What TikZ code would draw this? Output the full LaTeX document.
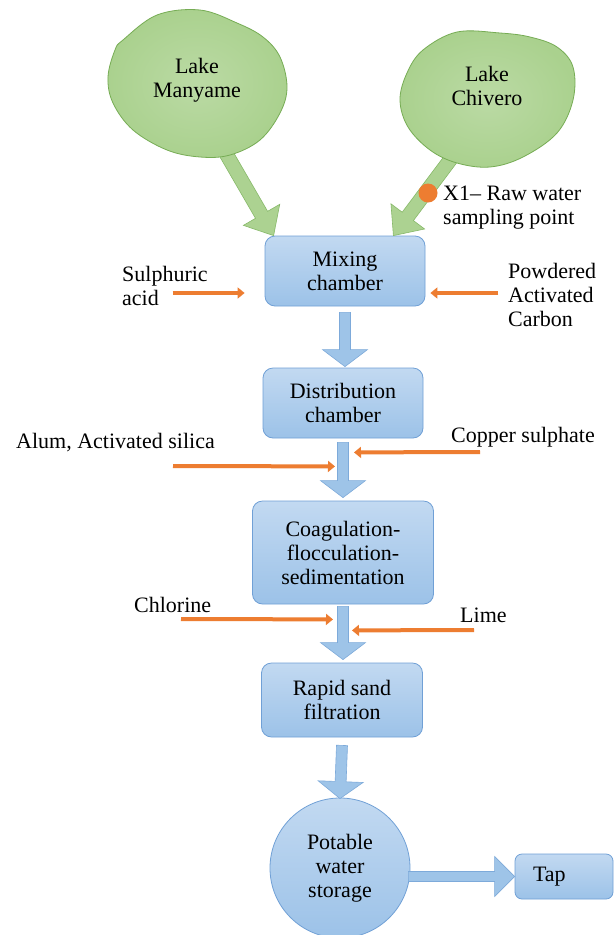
\documentclass[tikz,border=0pt]{standalone}
\usepackage{fontspec}
\setmainfont{Liberation Serif}
\usetikzlibrary{calc,arrows.meta}
\definecolor{boxtop}{RGB}{194,217,241}
\definecolor{boxbot}{RGB}{156,194,232}
\definecolor{boxedge}{RGB}{112,160,214}
\definecolor{arrfill}{RGB}{158,196,232}
\definecolor{arredge}{RGB}{125,170,218}
\definecolor{lakefill}{RGB}{170,209,142}
\definecolor{lakeedge}{RGB}{118,172,84}
\definecolor{garrfill}{RGB}{172,210,145}
\definecolor{garredge}{RGB}{135,185,105}
\definecolor{orng}{RGB}{237,125,49}
\newcommand\fatarrow[6][]{%
  \coordinate (fab) at ($(#3)!#6!(#2)$);
  \draw[#1] ($(#2)!#4!90:(#3)$) -- ($(fab)!#4!90:(#3)$) -- ($(fab)!#5!90:(#3)$) -- (#3) -- ($(fab)!#5!-90:(#3)$) -- ($(fab)!#4!-90:(#3)$) -- ($(#2)!#4!-90:(#3)$) -- cycle;}
\begin{document}
\begin{tikzpicture}[x=1pt,y=-1pt,
  every node/.style={font=\rmfamily\fontsize{22}{24}\selectfont},
  procbox/.style={draw=boxedge, line width=0.8pt, rounded corners=10pt, top color=boxtop, bottom color=boxbot, align=center, inner sep=2pt},
  bluearrow/.style={draw=arredge, fill=arrfill, line width=0.6pt},
  greenarrow/.style={draw=garredge, fill=garrfill, line width=0.6pt},
  lake/.style={draw=lakeedge, inner color=lakefill!80!white, outer color=lakefill, line width=0.8pt},
  feed/.style={draw=orng, line width=4pt, -{Triangle[width=11pt,length=7pt]}},
  lbl/.style={align=left, anchor=west, inner sep=0pt}]
\fill[white] (0,0) rectangle (615,935);
\useasboundingbox (0,0) rectangle (615,935);

% process nodes
\node[procbox, minimum width=160pt, minimum height=70pt] (mix) at (345,271) {Mixing\\chamber};
\node[procbox, minimum width=160pt, minimum height=70pt] (dist) at (343,403) {Distribution\\chamber};
\node[procbox, minimum width=181pt, minimum height=103pt] (coag) at (343,552.5) {Coagulation-\\flocculation-\\sedimentation};
\node[procbox, minimum width=161pt, minimum height=74pt] (rapid) at (342,700) {Rapid sand\\filtration};
\node[circle, draw=boxedge, line width=0.8pt, top color=boxtop, bottom color=boxbot, align=center, minimum size=140pt, inner sep=0pt] (store) at (340,868) {Potable\\water\\storage};
\node[procbox, rounded corners=7pt, inner xsep=18pt, text width=62pt, align=left, minimum height=45pt] (tap) at (564,876.5) {Tap};

% green arrows from lakes
\coordinate (mS) at (224,150);
\coordinate (mT) at ($(mix.north west)+(9,0)$);
\coordinate (cS) at (453,156);
\coordinate (cT) at ($(mix.north east)+(-32,0)$);
\fatarrow[greenarrow]{mS}{mT}{7pt}{21pt}{24pt}
\fatarrow[greenarrow]{cS}{cT}{7pt}{21pt}{24pt}

% lakes
\draw[lake] plot[smooth cycle, tension=0.6] coordinates {(123,40) (157,15) (200,10) (237,23) (263,37) (280,57) (287,87) (280,113) (260,140) (230,155) (200,157) (167,150) (133,130) (113,103) (108,77) (115,50)};
\node (many) at (197,80) [align=center] {Lake\\Manyame};
\draw[lake] plot[smooth cycle, tension=0.6] coordinates {(457,32) (423,50) (407,73) (400,100) (408,127) (430,150) (457,163) (490,167) (523,157) (557,133) (573,100) (573,67) (557,47) (530,37) (500,33)};
\node (chiv) at (487,86) [align=center] {Lake\\Chivero};

% sampling point
\node[circle, fill=orng, minimum size=19pt, inner sep=0pt] (x1) at (428,193) {};
\node[lbl] (x1lbl) at (443,208) {X1– Raw water\\sampling point};

% blue flow arrows
\coordinate (a1s) at ($(mix.south)+(0,6)$);
\coordinate (a1t) at ($(mix.south |- dist.north)+(0,-1)$);
\coordinate (a2s) at ($(dist.south)+(0,4)$);
\coordinate (a2t) at ($(dist.south |- coag.north)+(0,-3)$);
\coordinate (a3s) at ($(coag.south)+(0,2)$);
\coordinate (a3t) at ($(coag.south |- rapid.north)+(0,-3)$);
\coordinate (a4s) at ($(rapid.south)+(0,8)$);
\coordinate (a4t) at ($(store.north)+(0,1)$);
\coordinate (a5s) at ($(store.east |- tap.west)+(-2,0)$);
\coordinate (a5t) at (tap.west);
\fatarrow[bluearrow]{a1s}{a1t}{5.5pt}{22.5pt}{17pt}
\fatarrow[bluearrow]{a2s}{a2t}{5.5pt}{22.5pt}{17pt}
\fatarrow[bluearrow]{a3s}{a3t}{5.5pt}{22.5pt}{17pt}
\fatarrow[bluearrow]{a4s}{a4t}{5.5pt}{22.5pt}{17pt}
\fatarrow[bluearrow]{a5s}{a5t}{5pt}{20pt}{20pt}

% chemical feeds
\coordinate (s1) at ($(mix.west)+(-92,22)$);
\coordinate (s1t) at ($(mix.west)+(-20,22)$);
\coordinate (p1) at ($(mix.east)+(73,22)$);
\coordinate (p1t) at ($(mix.east)+(5,22)$);
\coordinate (al) at (173,466);
\coordinate (alt) at ($(a2s)+(-8,24)$);
\coordinate (cu) at (480,452);
\coordinate (cut) at ($(a2s)+(11,10)$);
\coordinate (cl) at (181,619);
\coordinate (clt) at ($(a3s)+(-10,13)$);
\coordinate (li) at (474,630);
\coordinate (lit) at ($(a3s)+(9,24)$);
\draw[feed] (s1) -- (s1t);
\draw[feed] (p1) -- (p1t);
\draw[feed] (al) -- (alt);
\draw[feed] (cu) -- (cut);
\draw[feed] (cl) -- (clt);
\draw[feed] (li) -- (lit);

% labels
\node[lbl] (sulph) at (122,286) {Sulphuric\\acid};
\node[lbl] (pac) at (508,295) {Powdered\\Activated\\Carbon};
\node[lbl] (alum) at (16,443) {Alum, Activated silica};
\node[lbl] (copper) at (451,437) {Copper sulphate};
\node[lbl] (chlor) at (134,605) {Chlorine};
\node[lbl] (lime) at (460,615) {Lime};
\end{tikzpicture}
\end{document}
